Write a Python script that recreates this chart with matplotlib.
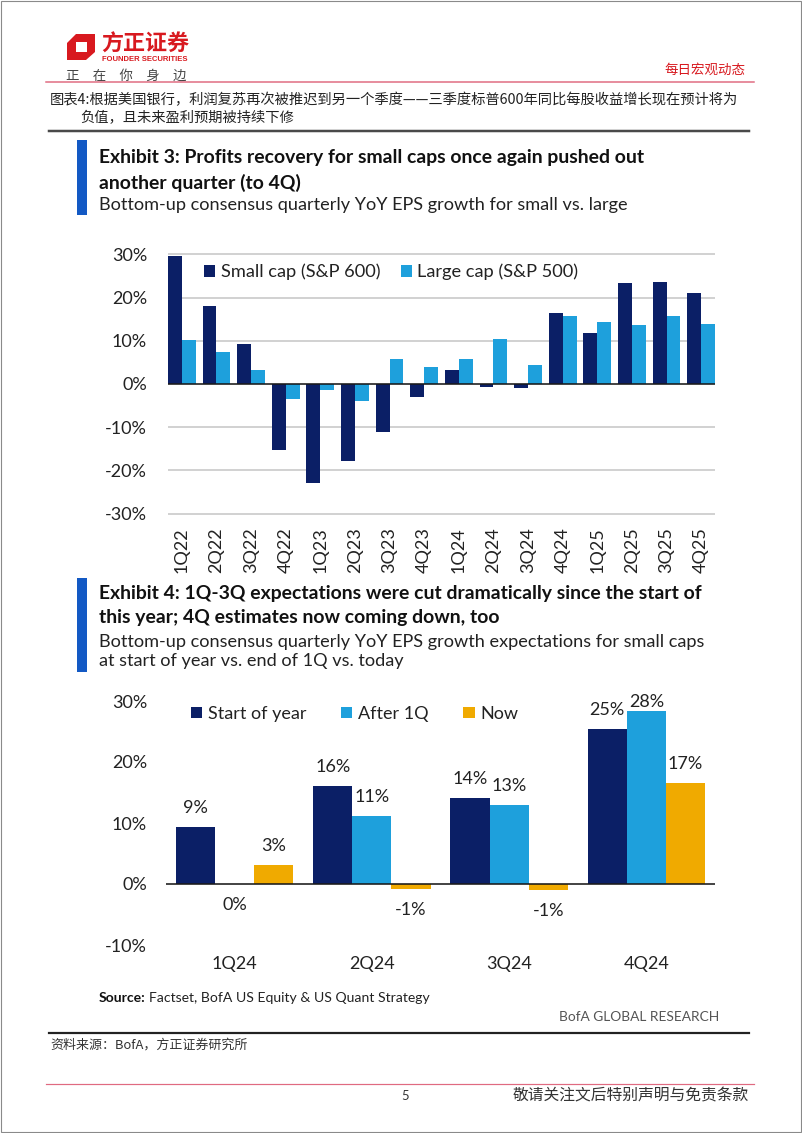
import matplotlib
matplotlib.use('Agg')
import matplotlib.pyplot as plt
from matplotlib.patches import Polygon, Rectangle
from matplotlib.lines import Line2D

# ---------------- data ----------------
quarters1 = ['1Q22', '2Q22', '3Q22', '4Q22', '1Q23', '2Q23', '3Q23', '4Q23',
             '1Q24', '2Q24', '3Q24', '4Q24', '1Q25', '2Q25', '3Q25', '4Q25']
small_cap = [29.5, 18.1, 9.3, -15.3, -23.0, -17.7, -11.2, -3.0,
             3.2, -0.7, -0.9, 16.5, 11.9, 23.4, 23.7, 21.0]
large_cap = [10.2, 7.3, 3.3, -3.5, -1.4, -3.9, 5.8, 3.9,
             5.8, 10.4, 4.5, 15.8, 14.3, 13.6, 15.8, 13.9]
series1_names = ['Small cap (S&P 600)', 'Large cap (S&P 500)']
yticks1 = [-30, -20, -10, 0, 10, 20, 30]

quarters2 = ['1Q24', '2Q24', '3Q24', '4Q24']
start_of_year = [9.4, 16.1, 14.1, 25.4]
after_1q = [0.0, 11.1, 13.0, 28.4]
now_est = [3.1, -0.8, -1.0, 16.6]
series2_names = ['Start of year', 'After 1Q', 'Now']
yticks2 = [-10, 0, 10, 20, 30]

# ---------------- style ----------------
NAVY = '#0b1f66'
LBLUE = '#1ea0dc'
GOLD = '#f0aa00'
ACCENT = '#1359c4'
RED = '#d8191f'
PINK = '#e06a80'
GRID = '#c8c8c8'
TXT = '#222222'

W, H = 802, 1133
fig = plt.figure(figsize=(W / 100, H / 100), dpi=100)


def fx(x):
    return x / W


def fy(y):
    return 1 - y / H


def pt(px):
    return px * 0.72


CJK = ['Noto Sans CJK SC', 'DejaVu Sans']
LAT = ['Lato', 'DejaVu Sans']
plt.rcParams['font.family'] = LAT


def hline(y, x0, x1, color, lw):
    fig.add_artist(Line2D([fx(x0), fx(x1)], [fy(y), fy(y)], color=color,
                          lw=pt(lw), transform=fig.transFigure))


# page border
fig.add_artist(Rectangle((0.0008, 0.0008), 0.9984, 0.9984, fill=False,
                         edgecolor='#8a8a8a', lw=0.8, transform=fig.transFigure))

# ---------------- header ----------------
logo_outer = [(76, 34), (95, 34), (95, 52), (86, 60), (67, 60), (67, 43)]
logo_inner = [(76, 42), (87, 42), (87, 52), (76, 52)]
fig.add_artist(Polygon([(fx(a), fy(b)) for a, b in logo_outer], closed=True,
                       facecolor=RED, edgecolor='none', transform=fig.transFigure))
fig.add_artist(Polygon([(fx(a), fy(b)) for a, b in logo_inner], closed=True,
                       facecolor='white', edgecolor='none', transform=fig.transFigure))
fig.text(fx(101), fy(44), '方正证券', family=CJK, fontsize=pt(22), weight='bold',
         color=RED, ha='left', va='center')
fig.text(fx(102.5), fy(59.5), 'FOUNDER SECURITIES', family=['Liberation Sans', 'DejaVu Sans'],
         fontsize=pt(7.6), weight='bold', color=RED, ha='left', va='center')
fig.text(fx(66), fy(76), '正\u3000在\u3000你\u3000身\u3000边', family=CJK,
         fontsize=pt(13.4), color='#444444', ha='left', va='center')
fig.text(fx(745), fy(70), '每日宏观动态', family=CJK, fontsize=pt(13.5),
         color=RED, ha='right', va='center')
hline(82, 46, 754, PINK, 1.5)

fig.text(fx(50), fy(100),
         '图表4:根据美国银行，利润复苏再次被推迟到另一个季度——三季度标普600年同比每股收益增长现在预计将为',
         family=CJK, fontsize=pt(14.3), color=TXT, ha='left', va='center')
fig.text(fx(80), fy(118), '负值，且未来盈利预期被持续下修',
         family=CJK, fontsize=pt(14.3), color=TXT, ha='left', va='center')
hline(131, 49, 749, '#4a4a4a', 2.5)

# ---------------- exhibit 3 header ----------------
TSZ = pt(19.4)
SSZ = pt(18.2)
fig.add_artist(Rectangle((fx(77), fy(215)), fx(10), (215 - 140) / H,
                         facecolor=ACCENT, edgecolor='none', transform=fig.transFigure))
fig.text(fx(99), fy(158), 'Exhibit 3: Profits recovery for small caps once again pushed out',
         fontsize=TSZ, weight='bold', color='#111111', ha='left', va='center')
fig.text(fx(99), fy(183), 'another quarter (to 4Q)',
         fontsize=TSZ, weight='bold', color='#111111', ha='left', va='center')
fig.text(fx(99), fy(205), 'Bottom-up consensus quarterly YoY EPS growth for small vs. large',
         fontsize=SSZ, color=TXT, ha='left', va='center')

# ---------------- chart 1 ----------------
px_per1 = (384 - 254.3) / 30.0
ylo1, yhi1 = -31, 31
top1 = 384 - yhi1 * px_per1
bot1 = 384 - ylo1 * px_per1
ax1 = fig.add_axes([fx(168), fy(bot1), (715 - 168) / W, (bot1 - top1) / H])
x1 = list(range(len(quarters1)))
bw1 = 0.4
b_small = ax1.bar([v - bw1 / 2 for v in x1], small_cap, width=bw1, color=NAVY, zorder=3,
                  label=series1_names[0])
b_large = ax1.bar([v + bw1 / 2 for v in x1], large_cap, width=bw1, color=LBLUE, zorder=3,
                  label=series1_names[1])
ax1.set_xlim(-0.4, len(quarters1) - 0.6)
ax1.set_ylim(ylo1, yhi1)
for yv in yticks1:
    if yv != 0:
        ax1.axhline(yv, color=GRID, lw=pt(1.6), zorder=1)
ax1.axhline(0, color='#1a1a1a', lw=pt(1.6), zorder=4)
ax1.set_yticks(yticks1)
ax1.set_yticklabels([f'{v}%' for v in yticks1])
ax1.set_xticks(x1)
ax1.set_xticklabels(quarters1, rotation=90)
ax1.tick_params(axis='y', length=0, pad=pt(21), labelsize=pt(18), labelcolor=TXT)
ax1.tick_params(axis='x', length=0, pad=pt(9), labelsize=pt(18), labelcolor=TXT)
for s in ax1.spines.values():
    s.set_visible(False)
ax1.patch.set_alpha(0)
leg1 = ax1.legend(handles=[b_small, b_large], loc='center left',
                  bbox_to_anchor=(fx(204), fy(272)), bbox_transform=fig.transFigure,
                  ncol=2, frameon=False, fontsize=pt(18.3), handlelength=0.62,
                  handleheight=0.62, handletextpad=0.3, columnspacing=1.1,
                  borderpad=0, borderaxespad=0)
for t in leg1.get_texts():
    t.set_color(TXT)

# ---------------- exhibit 4 header ----------------
fig.add_artist(Rectangle((fx(77), fy(672)), fx(10), (672 - 578) / H,
                         facecolor=ACCENT, edgecolor='none', transform=fig.transFigure))
fig.text(fx(99), fy(593),
         'Exhibit 4: 1Q-3Q expectations were cut dramatically since the start of',
         fontsize=TSZ, weight='bold', color='#111111', ha='left', va='center')
fig.text(fx(99), fy(618), 'this year; 4Q estimates now coming down, too',
         fontsize=TSZ, weight='bold', color='#111111', ha='left', va='center')
fig.text(fx(99), fy(642),
         'Bottom-up consensus quarterly YoY EPS growth expectations for small caps',
         fontsize=SSZ, color=TXT, ha='left', va='center')
fig.text(fx(99), fy(661), 'at start of year vs. end of 1Q vs. today',
         fontsize=SSZ, color=TXT, ha='left', va='center')

# ---------------- chart 2 ----------------
ylo2, yhi2 = -10, 30
top2, bot2 = 701, 945
ax2 = fig.add_axes([fx(166), fy(bot2), (715 - 166) / W, (bot2 - top2) / H])
px_per2 = (bot2 - top2) / (yhi2 - ylo2)
x2 = list(range(len(quarters2)))
bw2 = 0.285
series2 = [start_of_year, after_1q, now_est]
colors2 = [NAVY, LBLUE, GOLD]
handles2 = []
for i, (vals, col, name) in enumerate(zip(series2, colors2, series2_names)):
    xs = [v + (i - 1) * bw2 for v in x2]
    b = ax2.bar(xs, vals, width=bw2, color=col, zorder=3, label=name)
    handles2.append(b)
    for xv, v in zip(xs, vals):
        if v > 0:
            yl = min(v + 19 / px_per2, yhi2 - 0.1)
        else:
            yl = v - 21 / px_per2
        ax2.text(xv, yl, f'{round(v):.0f}%', ha='center', va='center',
                 fontsize=pt(18), color=TXT, zorder=5)
ax2.set_xlim(-0.5, len(quarters2) - 0.5)
ax2.set_ylim(ylo2, yhi2)
ax2.axhline(0, color='#1a1a1a', lw=pt(1.6), zorder=4)
ax2.set_yticks(yticks2)
ax2.set_yticklabels([f'{v}%' for v in yticks2])
ax2.set_xticks(x2)
ax2.set_xticklabels(quarters2)
ax2.tick_params(axis='y', length=0, pad=pt(19), labelsize=pt(18), labelcolor=TXT)
ax2.tick_params(axis='x', length=0, pad=pt(11), labelsize=pt(18), labelcolor=TXT)
for s in ax2.spines.values():
    s.set_visible(False)
ax2.patch.set_alpha(0)
leg2 = ax2.legend(handles=handles2, loc='center left',
                  bbox_to_anchor=(fx(191), fy(714)), bbox_transform=fig.transFigure,
                  ncol=3, frameon=False, fontsize=pt(18), handlelength=0.62,
                  handleheight=0.62, handletextpad=0.3, columnspacing=1.95,
                  borderpad=0, borderaxespad=0)
for t in leg2.get_texts():
    t.set_color(TXT)

# ---------------- footer ----------------
renderer = fig.canvas.get_renderer()
src_b = fig.text(fx(99), fy(998), 'Source:', fontsize=pt(14), weight='bold',
                 color='#111111', ha='left', va='center')
bb = src_b.get_window_extent(renderer=renderer)
fig.text(bb.x1 / W + fx(3), fy(998), 'Factset, BofA US Equity & US Quant Strategy',
         fontsize=pt(14), color=TXT, ha='left', va='center')
fig.text(fx(719), fy(1017), 'BofA GLOBAL RESEARCH', fontsize=pt(13.8),
         color='#555555', ha='right', va='center')
hline(1033, 49, 749, '#222222', 2.2)
fig.text(fx(50), fy(1045), '资料来源：BofA，方正证券研究所', family=CJK,
         fontsize=pt(13), color='#333333', ha='left', va='center')
hline(1084, 46, 754, PINK, 1.2)
fig.text(fx(405), fy(1096), '5', fontsize=pt(13), color='#333333',
         ha='center', va='center')
fig.text(fx(749), fy(1096), '敬请关注文后特别声明与免责条款', family=CJK,
         fontsize=pt(15.8), color='#333333', ha='right', va='center')

fig.savefig('out.png', dpi=100)
